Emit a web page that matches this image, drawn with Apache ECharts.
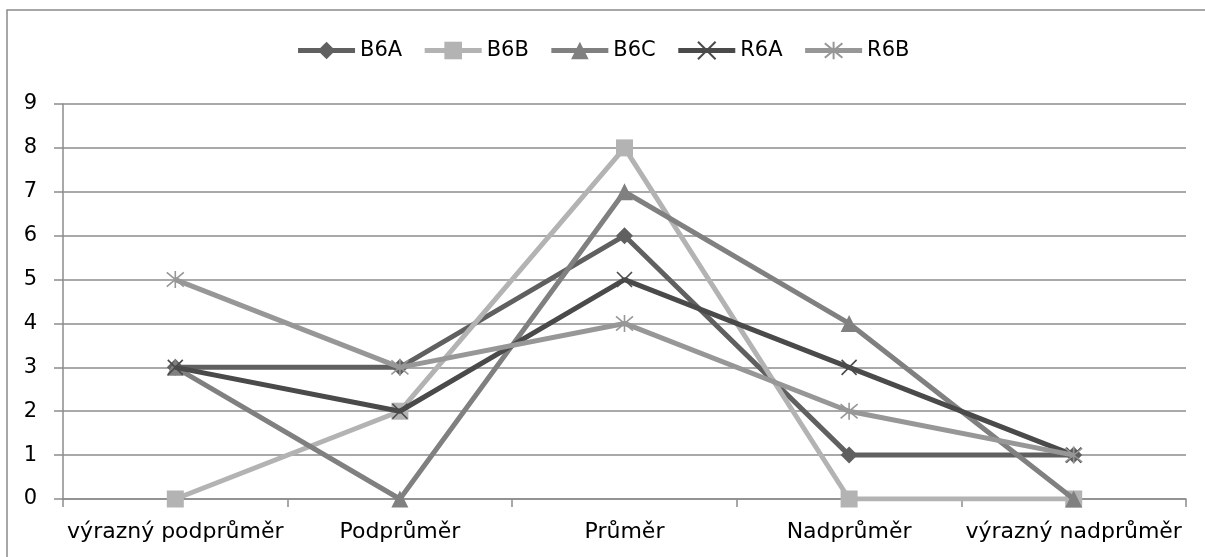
<!DOCTYPE html>
<html>
<head>
<meta charset="utf-8">
<script src="https://cdn.jsdelivr.net/npm/echarts@6/dist/echarts.min.js"></script>
<style>
  html, body { margin: 0; padding: 0; background: #ffffff; }
  #chart { width: 1205px; height: 557px; }
</style>
</head>
<body>
<div id="chart"></div>
<script>
// Score bands on the x axis
const categories = ['výrazný podprůměr', 'Podprůměr', 'Průměr', 'Nadprůměr', 'výrazný nadprůměr'];

// Number of pupils per band, one array per class
const b6a = [3, 3, 6, 1, 1];
const b6b = [0, 2, 8, 0, 0];
const b6c = [3, 0, 7, 4, 0];
const r6a = [3, 2, 5, 3, 1];
const r6b = [5, 3, 4, 2, 1];

const seriesNames = ['B6A', 'B6B', 'B6C', 'R6A', 'R6B'];
const seriesData = [b6a, b6b, b6c, r6a, r6b];

const colors = ['#606060', '#b3b3b3', '#808080', '#4a4a4a', '#979797'];
const crossPath = 'path://M0,0L10,10M10,0L0,10';
const starPath = 'path://M0,0L10,10M10,0L0,10M5,-1L5,11';
const symbols = ['diamond', 'rect', 'triangle', crossPath, starPath];
const symbolSizes = [17, 17, 17, 15, 17];

const FONT = 'DejaVu Sans';
const GRID = '#8c8c8c';

const chart = echarts.init(document.getElementById('chart'), null, { renderer: 'canvas' });

const series = seriesNames.map((name, i) => {
  const isStroke = i >= 3;
  return {
    name: name,
    type: 'line',
    data: seriesData[i],
    symbol: symbols[i],
    symbolSize: symbolSizes[i],
    showAllSymbol: true,
    lineStyle: { color: colors[i], width: 5 },
    itemStyle: isStroke
      ? { color: colors[i], borderColor: colors[i], borderWidth: 1.6 }
      : { color: colors[i], borderWidth: 0 },
    emphasis: { disabled: true },
    z: 2 + i
  };
});

chart.setOption({
  animation: false,
  color: colors,
  textStyle: { fontFamily: FONT },
  graphic: [{
    type: 'rect',
    shape: { x: 7, y: 10, width: 1220, height: 570 },
    style: { fill: 'none', stroke: '#8a8a8a', lineWidth: 1.5 },
    silent: true,
    z: -1
  }],
  legend: {
    top: 35,
    left: 'center',
    itemWidth: 57,
    itemHeight: 22,
    itemGap: 20,
    lineStyle: { width: 5 },
    textStyle: { fontFamily: FONT, fontSize: 21, color: '#000000' },
    data: seriesNames
  },
  grid: { left: 63, right: 19, top: 104, bottom: 58, containLabel: false },
  xAxis: {
    type: 'category',
    data: categories,
    boundaryGap: true,
    axisLine: { lineStyle: { color: GRID, width: 1.5 } },
    axisTick: { show: true, length: 8, alignWithLabel: false, lineStyle: { color: GRID, width: 1.5 } },
    axisLabel: { fontFamily: FONT, fontSize: 22, color: '#000000', margin: 22, interval: 0 },
    splitLine: { show: false }
  },
  yAxis: {
    type: 'value',
    min: 0,
    max: 9,
    interval: 1,
    axisLine: { show: true, lineStyle: { color: GRID, width: 1.5 } },
    axisTick: { show: true, length: 9, lineStyle: { color: GRID, width: 1.5 } },
    axisLabel: { fontFamily: FONT, fontSize: 21, color: '#000000', margin: 26 },
    splitLine: { show: true, lineStyle: { color: GRID, width: 1.5 } }
  },
  series: series
});
</script>
</body>
</html>
